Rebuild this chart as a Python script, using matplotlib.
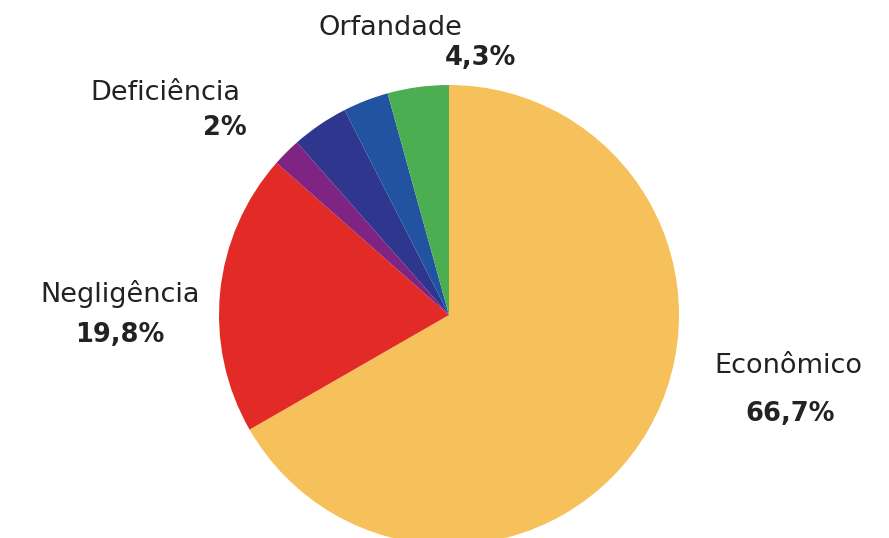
import matplotlib
matplotlib.use("Agg")
import matplotlib.pyplot as plt

labels = ["Econômico", "Negligência", "Deficiência", "", "", "Orfandade"]
shares = [66.7, 19.8, 2.0, 4.0, 3.2, 4.3]
pct_labels = ["66,7%", "19,8%", "2%", "", "", "4,3%"]
colors = ["#F6C15A", "#E22B26", "#7F2482", "#2E368E", "#2253A0", "#4BAE50"]

plt.rcParams["font.family"] = ["DejaVu Sans"]
txt = "#222222"

fig = plt.figure(figsize=(8.89, 5.38), dpi=100)
ax = fig.add_axes([0, 0, 1, 1])
ax.pie(shares, colors=colors, startangle=90, counterclock=False,
       center=(449, 223), radius=230, frame=False,
       wedgeprops=dict(linewidth=0))
ax.set_xlim(0, 889)
ax.set_ylim(0, 538)
ax.set_aspect("auto")
ax.axis("off")

# label positions (pixels, y from bottom)
name_pos = {0: (788, 172), 1: (120, 244), 2: (165, 445), 5: (390, 510)}
pct_pos = {0: (790, 124), 1: (120, 203), 2: (247, 410), 5: (480, 480)}
pct_ha = {0: "center", 1: "center", 2: "right", 5: "center"}
for i, (x, y) in name_pos.items():
    ax.text(x, y, labels[i], ha="center", va="center", fontsize=19.5, color=txt)
    px, py = pct_pos[i]
    ax.text(px, py, pct_labels[i], ha=pct_ha[i], va="center", fontsize=18.5,
            fontweight="bold", color=txt)

fig.savefig("out.png", dpi=100, facecolor="white")
